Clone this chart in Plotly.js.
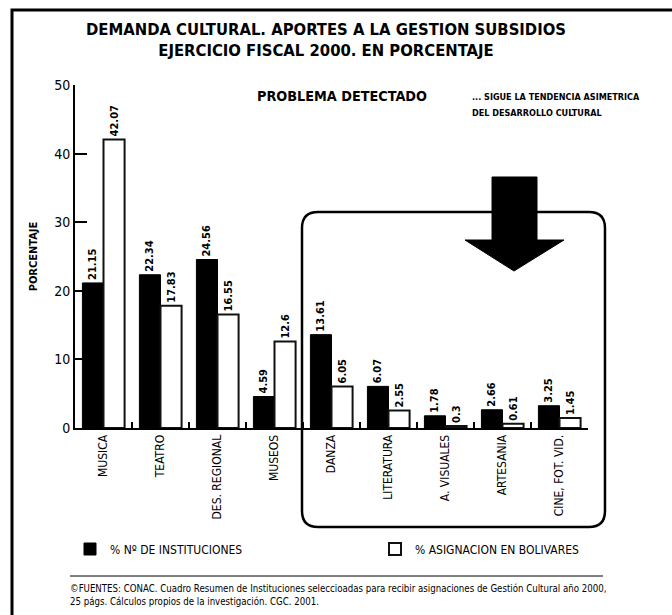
<!DOCTYPE html>
<html>
<head>
<meta charset="utf-8">
<script src="https://cdn.plot.ly/plotly-3.0.1.min.js"></script>
<style>html,body{margin:0;padding:0;background:#fff;}#chart{width:672px;height:615px;}</style>
</head>
<body>
<div id="chart"></div>
<script>
// ---- data ----
const categories = ["MUSICA","TEATRO","DES. REGIONAL","MUSEOS","DANZA","LITERATURA","A. VISUALES","ARTESANIA","CINE, FOT. VID."];
const instituciones = [21.15, 22.34, 24.56, 4.59, 13.61, 6.07, 1.78, 2.66, 3.25];
const asignacion = [42.07, 17.83, 16.55, 12.6, 6.05, 2.55, 0.3, 0.61, 1.45];
const yTicks = [0, 10, 20, 30, 40, 50];
const seriesNames = ["% Nº DE INSTITUCIONES", "% ASIGNACION EN BOLIVARES"];

// ---- layout helpers (pixel -> paper) ----
const L = 75, R = 588, T = 85, B = 428;
const px = x => (x - L) / (R - L);
const py = y => (B - y) / (B - T);
const P = (x, y) => px(x).toFixed(4) + "," + py(y).toFixed(4);

const FONT = "'Liberation Sans Narrow', 'DejaVu Sans Condensed', 'Arial Narrow', sans-serif";

const traces = [
  {
    type: "bar", name: seriesNames[0], x: categories, y: instituciones, legend: "legend",
    marker: {color: "#000", line: {color: "#000", width: 1}},
    text: instituciones.map(String), textposition: "outside", textangle: -90,
    textfont: {family: FONT, size: 11, color: "#000", weight: "bold"},
    constraintext: "none", cliponaxis: false
  },
  {
    type: "bar", name: seriesNames[1], x: categories, y: asignacion, legend: "legend2",
    marker: {color: "#fff", line: {color: "#111", width: 2}},
    text: asignacion.map(String), textposition: "outside", textangle: -90,
    textfont: {family: FONT, size: 11, color: "#000", weight: "bold"},
    constraintext: "none", cliponaxis: false
  }
];

// rounded highlight box
const bx0 = 302, bx1 = 605, by0 = 212, by1 = 527, r = 16;
const boxPath = "M" + P(bx0, by0 + r) + " Q" + P(bx0, by0) + " " + P(bx0 + r, by0) +
  " L" + P(bx1 - r, by0) + " Q" + P(bx1, by0) + " " + P(bx1, by0 + r) +
  " L" + P(bx1, by1 - r) + " Q" + P(bx1, by1) + " " + P(bx1 - r, by1) +
  " L" + P(bx0 + r, by1) + " Q" + P(bx0, by1) + " " + P(bx0, by1 - r) + " Z";

const arrowPath = "M" + P(492, 177) + " L" + P(537, 177) + " L" + P(537, 240) + " L" + P(564, 240) +
  " L" + P(514, 271) + " L" + P(465, 240) + " L" + P(492, 240) + " Z";

const framePath = "M" + P(12, 615) + " L" + P(12, 10) + " L" + P(672, 10);

const legendFont = {family: FONT, size: 12, color: "#000"};

const layout = {
  width: 672, height: 615,
  margin: {l: L, r: 672 - R, t: T, b: 615 - B, pad: 0},
  paper_bgcolor: "#fff", plot_bgcolor: "#fff",
  font: {family: FONT, color: "#000"},
  title: {
    text: "DEMANDA CULTURAL. APORTES A LA GESTION SUBSIDIOS<br>EJERCICIO FISCAL 2000. EN PORCENTAJE",
    x: 326 / 672, xanchor: "center", y: 1 - 35 / 615, yanchor: "top",
    font: {family: FONT, size: 16.5, weight: "bold", color: "#000"}
  },
  barmode: "group", bargap: 0.26, bargroupgap: 0,
  showlegend: true,
  legend: {
    orientation: "h", x: px(70), xanchor: "left", y: py(549), yanchor: "middle",
    font: legendFont, bgcolor: "rgba(0,0,0,0)"
  },
  legend2: {
    orientation: "h", x: px(375), xanchor: "left", y: py(549), yanchor: "middle",
    font: legendFont, bgcolor: "rgba(0,0,0,0)"
  },
  xaxis: {
    type: "category", showline: true, linecolor: "#000", linewidth: 2,
    ticks: "inside", tickson: "boundaries", ticklen: 6, tickwidth: 2, tickcolor: "#000",
    tickangle: -90, tickfont: {family: FONT, size: 12, color: "#000"},
    showgrid: false, zeroline: false, fixedrange: true
  },
  yaxis: {
    range: [0, 50], tickvals: yTicks, ticktext: yTicks.map(String),
    showline: true, linecolor: "#000", linewidth: 2,
    ticks: "inside", ticklen: 12, tickwidth: 2, tickcolor: "#000",
    tickfont: {family: FONT, size: 14, color: "#000"},
    showgrid: false, zeroline: false, fixedrange: true,
    title: {text: "PORCENTAJE", standoff: 14, font: {family: FONT, size: 11, weight: "bold", color: "#000"}}
  },
  shapes: [
    {type: "path", xref: "paper", yref: "paper", path: framePath, line: {color: "#000", width: 3}},
    {type: "path", xref: "paper", yref: "paper", path: boxPath, line: {color: "#000", width: 2.5}},
    {type: "path", xref: "paper", yref: "paper", path: arrowPath, fillcolor: "#000", line: {color: "#000", width: 1}},
    {type: "line", xref: "paper", yref: "paper", x0: px(70), x1: px(603), y0: py(576), y1: py(576), line: {color: "#000", width: 1}}
  ],
  annotations: [
    {xref: "paper", yref: "paper", x: px(342), y: py(96), text: "PROBLEMA DETECTADO", showarrow: false,
     xanchor: "center", yanchor: "middle", font: {family: FONT, size: 14.3, weight: "bold"}},
    {xref: "paper", yref: "paper", x: px(470), y: py(97), text: "... SIGUE LA TENDENCIA ASIMETRICA", showarrow: false,
     xanchor: "left", yanchor: "middle", font: {family: FONT, size: 9, weight: "bold"}},
    {xref: "paper", yref: "paper", x: px(470), y: py(113), text: "DEL DESARROLLO CULTURAL", showarrow: false,
     xanchor: "left", yanchor: "middle", font: {family: FONT, size: 9, weight: "bold"}},
    {xref: "paper", yref: "paper", x: px(68), y: py(588), text: "©FUENTES: CONAC. Cuadro Resumen de Instituciones seleccioadas para recibir asignaciones de Gestión Cultural año 2000,", showarrow: false,
     xanchor: "left", yanchor: "middle", font: {family: FONT, size: 9.6}},
    {xref: "paper", yref: "paper", x: px(68), y: py(601), text: "25 págs. Cálculos propios de la investigación. CGC. 2001.", showarrow: false,
     xanchor: "left", yanchor: "middle", font: {family: FONT, size: 9.6}}
  ]
};

Plotly.newPlot("chart", traces, layout, {staticPlot: true, displayModeBar: false});
</script>
</body>
</html>
